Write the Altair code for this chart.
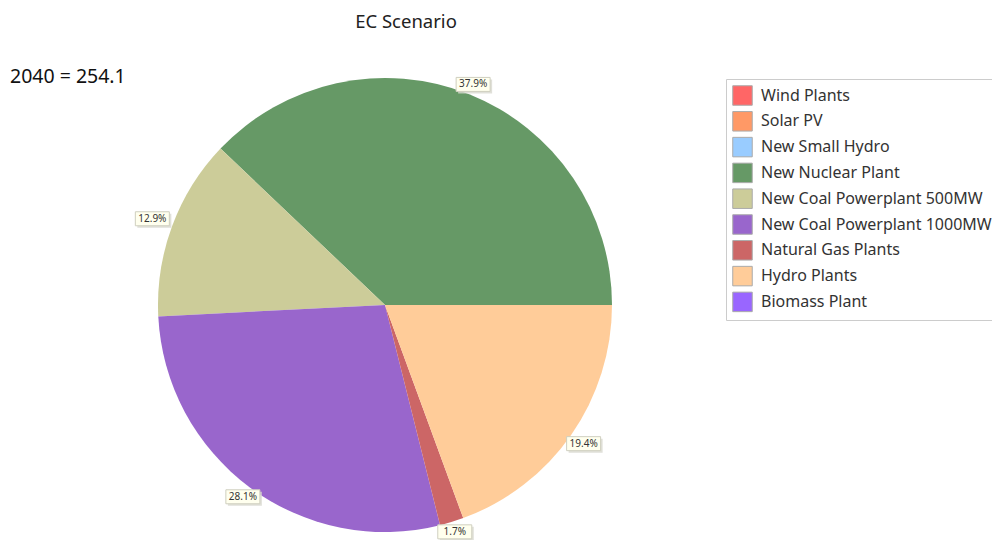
import math
import altair as alt
import pandas as pd

names = ["Wind Plants", "Solar PV", "New Small Hydro", "New Nuclear Plant",
         "New Coal Powerplant 500MW", "New Coal Powerplant 1000MW",
         "Natural Gas Plants", "Hydro Plants", "Biomass Plant"]
shares = [0.0, 0.0, 0.0, 37.9, 12.9, 28.1, 1.7, 19.4, 0.0]
colors = ["#FF6666", "#FF9966", "#99CCFF", "#669966", "#CCCC99",
          "#9966CC", "#CC6666", "#FFCC99", "#9966FF"]
title_text = "EC Scenario"
total_text = "2040 = 254.1"

W, H = 984, 532
CX, CY, R = 377, 297, 227
GAP = 3

df = pd.DataFrame({"name": names, "value": shares, "idx": list(range(len(names)))})
base = alt.Chart(df)

color = alt.Color("name:N", sort=names,
                  scale=alt.Scale(domain=names, range=colors),
                  legend=alt.Legend(title=None, orient="none", legendX=718, legendY=71,
                                    symbolType="square", symbolSize=380,
                                    symbolStrokeColor="#aaaaaa", symbolStrokeWidth=1,
                                    symbolOpacity=1,
                                    labelFont="Noto Sans", labelFontSize=16,
                                    labelColor="#333333", labelOffset=8,
                                    rowPadding=0.8, padding=6,
                                    strokeColor="#cccccc", fillColor="white",
                                    labelLimit=400))

pie = base.mark_arc(outerRadius=R, stroke=None).encode(
    theta=alt.Theta("value:Q", stack=True,
                    scale=alt.Scale(range=[math.pi / 2, math.pi / 2 - 2 * math.pi])),
    color=color,
    order=alt.Order("idx:Q"),
    x=alt.value(CX),
    y=alt.value(CY),
)

lab = base.transform_window(
    cum="sum(value)", frame=[None, 0], sort=[alt.SortField("idx")]
).transform_filter("datum.value > 0").transform_calculate(
    a="PI/2 - 2*PI*(datum.cum - datum.value/2)/100"
).transform_calculate(
    d=f"{R} + {GAP} + min(17/abs(sin(datum.a)), 7/abs(cos(datum.a)))"
).transform_calculate(
    lx=f"{CX} + datum.d*sin(datum.a)",
    ly=f"{CY} - datum.d*cos(datum.a)",
    txt="format(datum.value, '.1f') + '%'"
).transform_calculate(
    x1="datum.lx - 17", x2="datum.lx + 17",
    y1="datum.ly - 7", y2="datum.ly + 7",
    sx1="datum.lx - 15", sx2="datum.lx + 19",
    sy1="datum.ly - 5", sy2="datum.ly + 9",
)

xs = alt.Scale(domain=[0, W], range=[0, W])
ys = alt.Scale(domain=[0, H], range=[0, H])

shadow = lab.mark_rect(fill="#d8d8d0", opacity=0.8).encode(
    x=alt.X("sx1:Q", scale=xs, axis=None), x2="sx2:Q",
    y=alt.Y("sy1:Q", scale=ys, axis=None), y2="sy2:Q",
)
box = lab.mark_rect(fill="#FFFFEE", stroke="#cfcfbf", strokeWidth=1).encode(
    x=alt.X("x1:Q", scale=xs, axis=None), x2="x2:Q",
    y=alt.Y("y1:Q", scale=ys, axis=None), y2="y2:Q",
)
txt = lab.mark_text(font="Noto Sans", fontSize=10, color="#333333",
                    align="center", baseline="middle").encode(
    x=alt.X("lx:Q", scale=xs, axis=None),
    y=alt.Y("ly:Q", scale=ys, axis=None),
    text="txt:N",
)

title = alt.Chart(pd.DataFrame({"t": [title_text]})).mark_text(
    font="Noto Sans", fontSize=18.5, color="#222222", align="center", baseline="middle"
).encode(text="t:N", x=alt.value(398), y=alt.value(14))

total = alt.Chart(pd.DataFrame({"t": [total_text]})).mark_text(
    font="Noto Sans", fontSize=19.5, color="#111111", align="left", baseline="middle"
).encode(text="t:N", x=alt.value(2), y=alt.value(69))

chart = alt.layer(pie, shadow, box, txt, title, total).resolve_scale(
    x="independent", y="independent"
).properties(
    width=W, height=H, autosize="none", padding=0
).configure_view(stroke=None)

chart.save("out.html", embed_options={"renderer": "svg", "actions": False})
